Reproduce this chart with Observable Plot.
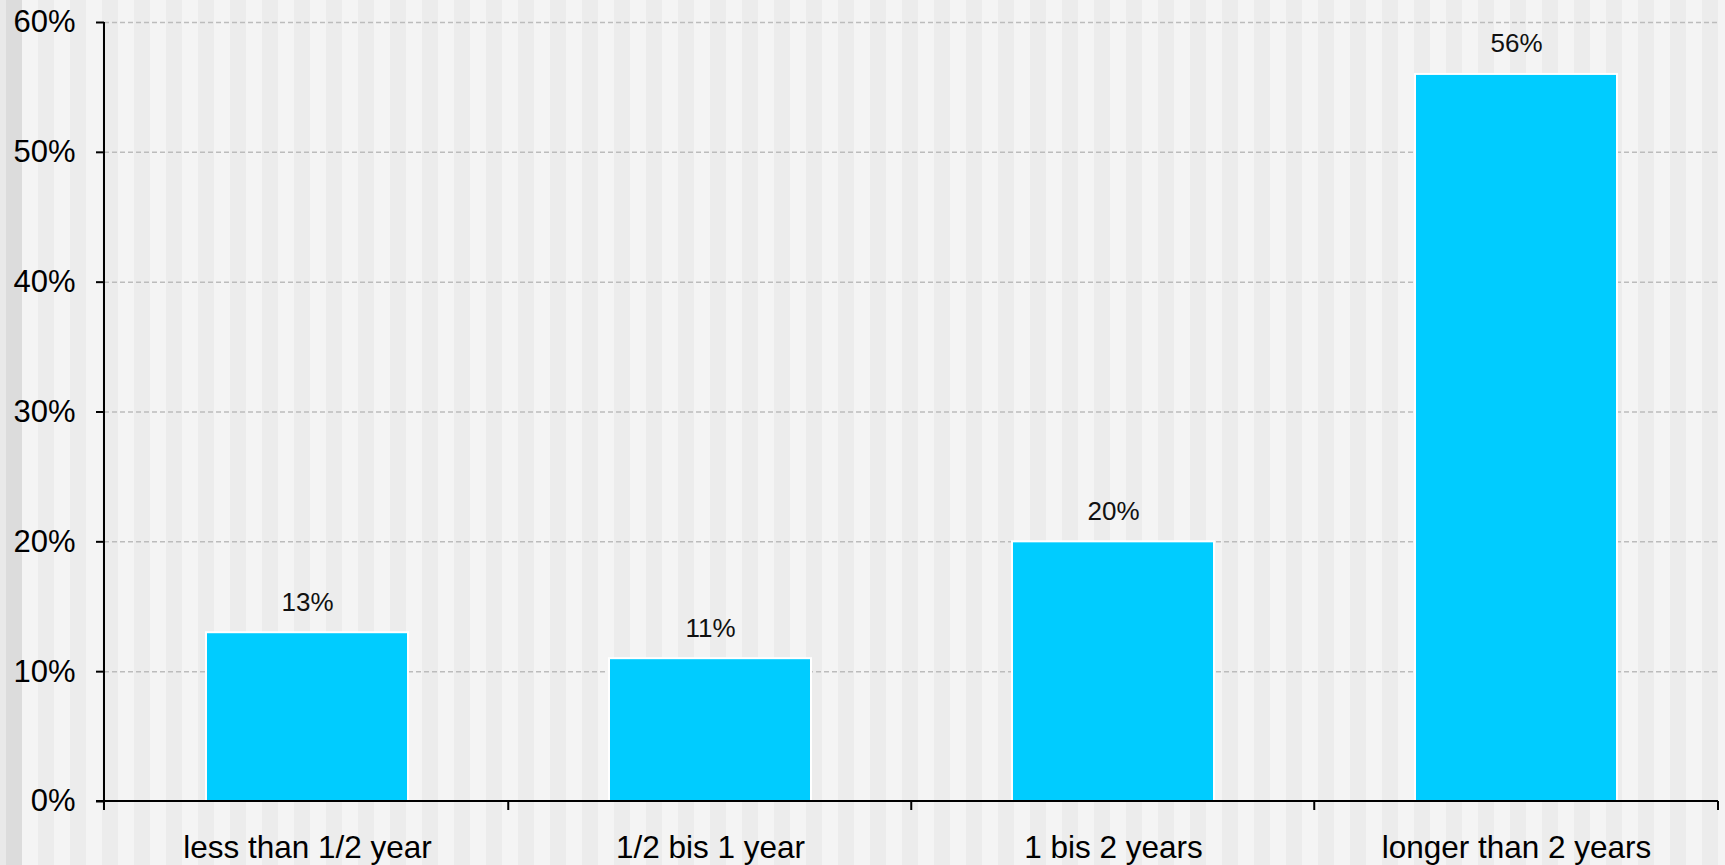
<!DOCTYPE html>
<html>
<head>
<meta charset="utf-8">
<script src="https://cdn.jsdelivr.net/npm/d3@7"></script>
<script src="https://cdn.jsdelivr.net/npm/@observablehq/plot@0.6"></script>
<style>
html, body { margin: 0; padding: 0; background: #f4f4f4; }
#chart svg { display: block; }
</style>
</head>
<body>
<div id="chart"></div>
<script>
const categories = ["less than 1/2 year", "1/2 bis 1 year", "1 bis 2 years", "longer than 2 years"];
const shares = [0.13, 0.11, 0.20, 0.56];
const yTicks = [0, 0.1, 0.2, 0.3, 0.4, 0.5, 0.6];

const data = categories.map((c, i) => ({category: c, share: shares[i]}));
const pct = d3.format(".0%");

// Axis lines and category-boundary ticks, placed through the x band scale
const axisFrame = (index, scales, values, dims) => {
  const x = scales.x;
  const xs = categories.map(c => x(c));
  const step = xs[1] - xs[0];
  const left = dims.marginLeft, right = dims.width - dims.marginRight;
  const y0 = dims.height - dims.marginBottom;
  const bounds = [left, ...xs.slice(1).map(v => v - step * 0.25), right];
  const g = d3.create("svg:g").attr("stroke", "#000").attr("stroke-width", 2).attr("fill", "none");
  g.append("line").attr("x1", left).attr("x2", left).attr("y1", dims.marginTop).attr("y2", y0 + 9);
  for (const b of bounds) g.append("line").attr("x1", b).attr("x2", b).attr("y1", y0).attr("y2", y0 + 9);
  g.append("line").attr("x1", left - 8).attr("x2", right).attr("y1", y0).attr("y2", y0);
  return g.node();
};

const chart = Plot.plot({
  width: 1725,
  height: 865,
  marginLeft: 104,
  marginRight: 7,
  marginTop: 22,
  marginBottom: 64,
  style: {
    background: "linear-gradient(to right, #e9e9e9 0 6px, #dcdcdc 6px 22px, transparent 22px), repeating-linear-gradient(to right, #f4f4f4 0 6px, #ececec 6px 22px, #f4f4f4 22px 32px)",
    fontFamily: "'Liberation Sans', Arial, sans-serif",
    color: "#000"
  },
  x: {domain: categories, paddingInner: 0.5, paddingOuter: 0.25, label: null},
  y: {domain: [0, 0.6], label: null},
  marks: [
    Plot.gridY(yTicks.slice(1), {stroke: "#bcbcbc", strokeOpacity: 1, strokeDasharray: "5,3", strokeWidth: 1.5}),
    Plot.barY(data, {x: "category", y: "share", fill: "#00ccff", stroke: "#ffffff", strokeWidth: 2}),
    Plot.text(data, {x: "category", y: "share", text: d => pct(d.share), dy: -22, lineAnchor: "bottom", fontSize: 26, fill: "#111"}),
    Plot.axisY(yTicks, {tickFormat: pct, tickSize: 8, tickPadding: 21, fontSize: 31, strokeWidth: 2, label: null}),
    Plot.axisX({tickSize: 0, tickPadding: 34, fontSize: 31.5, label: null}),
    axisFrame
  ]
});
document.getElementById("chart").append(chart);
</script>
</body>
</html>
